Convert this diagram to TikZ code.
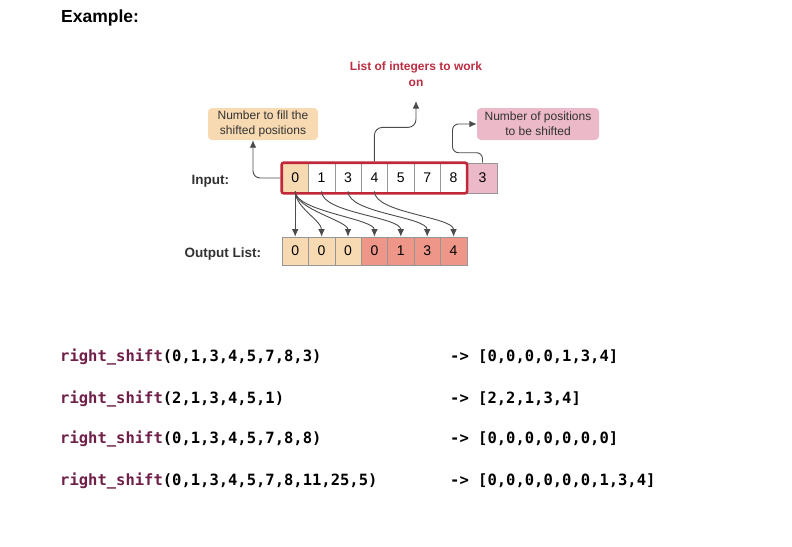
\documentclass[tikz,border=0pt]{standalone}
\usepackage{fontspec}
\setmainfont{Liberation Sans}
\setmonofont{DejaVu Sans Mono}
\usetikzlibrary{fit,arrows.meta}
\definecolor{cellorange}{RGB}{248,218,178}
\definecolor{cellsalmon}{RGB}{238,150,135}
\definecolor{cellpink}{RGB}{235,185,200}
\definecolor{cellgray}{RGB}{150,150,150}
\definecolor{boxred}{RGB}{192,40,58}
\definecolor{titlered}{RGB}{190,45,65}
\definecolor{connc}{RGB}{75,75,75}
\definecolor{fnpurple}{RGB}{112,32,72}
\definecolor{txtgray}{RGB}{50,50,50}
\tikzset{
  cellbox/.style={draw=cellgray, line width=0.6pt, minimum width=26.4pt, minimum height=30pt, inner sep=0pt,
    font=\fontsize{14}{16}\selectfont, text=black},
  outcell/.style={cellbox, minimum height=28pt},
  conn/.style={draw=connc, line width=0.9pt, -{Latex[length=7.5pt,width=6.5pt]}},
  notebox/.style={rounded corners=4pt, align=center, inner sep=0pt, text=txtgray,
    font=\fontsize{12}{15}\selectfont},
  rowlabel/.style={font=\bfseries\fontsize{13.5}{16}\selectfont, text=txtgray, anchor=west},
  codeline/.style={anchor=west, inner sep=0pt, font=\ttfamily\bfseries\fontsize{15.5}{18}\selectfont}
}
\begin{document}
\begin{tikzpicture}[x=1pt,y=-1pt]
\useasboundingbox[fill=white] (0,0) rectangle (792,546);

\node[anchor=west, inner sep=0pt, font=\bfseries\fontsize{17.5}{20}\selectfont] (ex) at (61,18) {Example:};

% input row
\node[cellbox, fill=cellorange] (i0) at (295.2,178) {0};
\node[cellbox, fill=white] (i1) at (321.6,178) {1};
\node[cellbox, fill=white] (i2) at (348.0,178) {3};
\node[cellbox, fill=white] (i3) at (374.4,178) {4};
\node[cellbox, fill=white] (i4) at (400.8,178) {5};
\node[cellbox, fill=white] (i5) at (427.2,178) {7};
\node[cellbox, fill=white] (i6) at (453.6,178) {8};
\node[cellbox, fill=cellpink, minimum width=30pt] (i7) at (482.5,178) {3};
\node[draw=boxred, line width=2.6pt, rounded corners=2pt, inner sep=0pt, fit=(i0)(i6)] (inbox) {};

% output row
\node[outcell, fill=cellorange] (o0) at (295.2,251) {0};
\node[outcell, fill=cellorange] (o1) at (321.6,251) {0};
\node[outcell, fill=cellorange] (o2) at (348.0,251) {0};
\node[outcell, fill=cellsalmon] (o3) at (374.4,251) {0};
\node[outcell, fill=cellsalmon] (o4) at (400.8,251) {1};
\node[outcell, fill=cellsalmon] (o5) at (427.2,251) {3};
\node[outcell, fill=cellsalmon] (o6) at (453.6,251) {4};

\node[rowlabel] (inlab) at (188,181) {Input:};
\node[rowlabel] (outlab) at (181,254) {Output List:};

% notes
\node[notebox, fill=cellorange, minimum width=110pt, minimum height=32pt] (fillbox) at (263,124)
  {Number to fill the\\shifted positions};
\node[notebox, fill=cellpink, minimum width=122pt, minimum height=32pt] (posbox) at (538,124)
  {Number of positions\\to be shifted};
\node[align=center, inner sep=0pt, text=titlered, font=\bfseries\fontsize{12}{16}\selectfont] (title) at (416,74)
  {List of integers to work\\on};
\coordinate (ttip) at (416,101);

% connectors
\draw[conn, rounded corners=7pt] (inbox.west) -| ([xshift=-10pt]fillbox.south);
\draw[conn, rounded corners=8pt] (inbox.north) -- ++(0,-34) -| (ttip);
\draw[conn, rounded corners=6pt] (i7.north) -- ++(0,-10) -- ++(-30,0) |- (posbox.west);

% shift arrows
\draw[conn] ([yshift=2pt]i0.south) -- (o0.north);
\draw[conn] ([yshift=2pt]i0.south) .. controls +(0,16) and +(0,-16) .. (o1.north);
\draw[conn] ([yshift=2pt]i0.south) .. controls +(0,18) and +(0,-16) .. (o2.north);
\draw[conn] ([yshift=2pt]i0.south) .. controls +(0,20) and +(0,-18) .. (o3.north);
\draw[conn] ([yshift=2pt]i1.south) .. controls +(0,22) and +(0,-20) .. (o4.north);
\draw[conn] ([yshift=2pt]i2.south) .. controls +(0,22) and +(0,-20) .. (o5.north);
\draw[conn] ([yshift=2pt]i3.south) .. controls +(0,22) and +(0,-20) .. (o6.north);

% code examples
\node[codeline] (c1) at (60,357) {\textcolor{fnpurple}{right\_shift}(0,1,3,4,5,7,8,3)};
\node[codeline] (c2) at (60,399) {\textcolor{fnpurple}{right\_shift}(2,1,3,4,5,1)};
\node[codeline] (c3) at (60,439) {\textcolor{fnpurple}{right\_shift}(0,1,3,4,5,7,8,8)};
\node[codeline] (c4) at (60,481) {\textcolor{fnpurple}{right\_shift}(0,1,3,4,5,7,8,11,25,5)};
\node[codeline] (r1) at (450,357) {->\ [0,0,0,0,1,3,4]};
\node[codeline] (r2) at (450,399) {->\ [2,2,1,3,4]};
\node[codeline] (r3) at (450,439) {->\ [0,0,0,0,0,0,0]};
\node[codeline] (r4) at (450,481) {->\ [0,0,0,0,0,0,1,3,4]};
\end{tikzpicture}
\end{document}
